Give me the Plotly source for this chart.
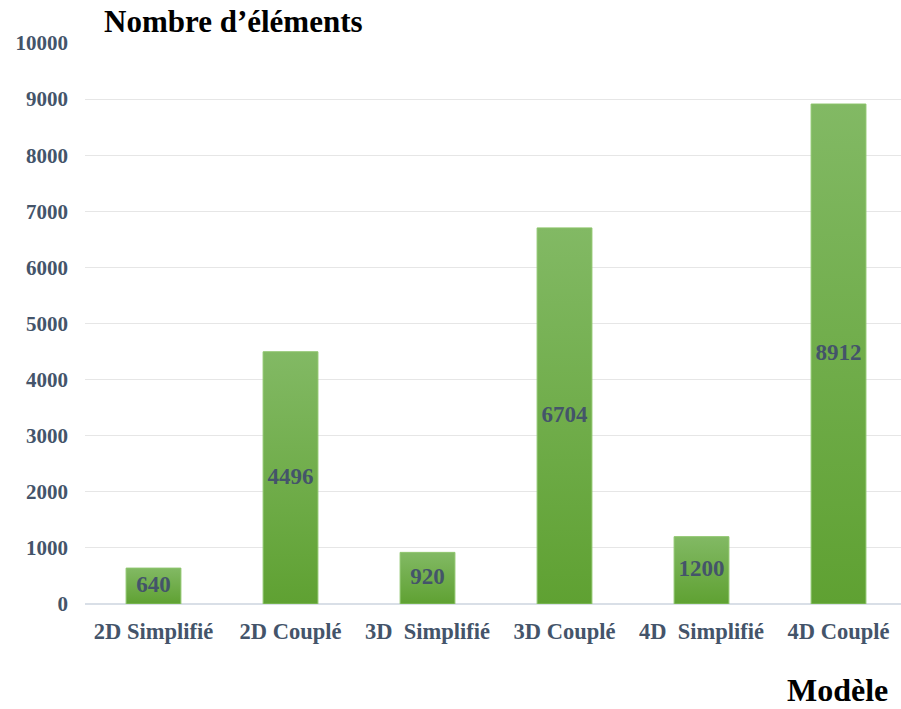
import plotly.graph_objects as go

# Number of mesh elements per model
categories = ["2D Simplifié", "2D Couplé", "3D\u00a0 Simplifié", "3D Couplé", "4D\u00a0 Simplifié", "4D Couplé"]
elements = [640, 4496, 920, 6704, 1200, 8912]
y_ticks = list(range(0, 10001, 1000))

BAR_HALF = 0.2
SERIF = "Liberation Serif, Times New Roman, serif"
LABEL_COLOR = "#44546A"

fig = go.Figure()

# Each bar is a filled rectangle so it can carry a vertical green gradient
for i, v in enumerate(elements):
    fig.add_trace(go.Scatter(
        x=[i - BAR_HALF, i + BAR_HALF, i + BAR_HALF, i - BAR_HALF, i - BAR_HALF],
        y=[0, 0, v, v, 0],
        mode="lines",
        fill="toself",
        line=dict(color="#8cc46a", width=1),
        fillgradient=dict(type="vertical", start=0, stop=v,
                          colorscale=[[0, "#5fa132"], [1, "#82b964"]]),
        hoverinfo="skip",
        showlegend=False,
    ))

# Value labels centred in each bar
fig.add_trace(go.Scatter(
    x=list(range(len(elements))),
    y=[v / 2 for v in elements],
    mode="text",
    text=[str(v) for v in elements],
    textfont=dict(family=SERIF, size=23, color=LABEL_COLOR, weight="bold"),
    hoverinfo="skip",
    showlegend=False,
))

fig.update_layout(
    width=901,
    height=709,
    margin=dict(l=85, r=0, t=43, b=105),
    paper_bgcolor="white",
    plot_bgcolor="white",
    title=dict(
        text="<b>Nombre d’éléments</b>",
        x=104 / 901, xanchor="left",
        y=1 - 21 / 709, yanchor="middle",
        font=dict(family=SERIF, size=31, color="black"),
    ),
    xaxis=dict(
        range=[-0.5, 5.456],
        tickmode="array",
        tickvals=list(range(len(categories))),
        ticktext=["<b>%s</b>" % c for c in categories],
        tickfont=dict(family=SERIF, size=22.5, color=LABEL_COLOR),
        showgrid=False,
        zeroline=False,
        showline=False,
        ticks="",
        ticklabelstandoff=11,
    ),
    yaxis=dict(
        range=[0, 10000],
        tickmode="array",
        tickvals=y_ticks,
        ticktext=["<b>%d</b>" % t for t in y_ticks],
        tickfont=dict(family=SERIF, size=21, color=LABEL_COLOR),
        showgrid=True,
        gridcolor="#e6e6e6",
        gridwidth=1,
        zeroline=True,
        zerolinecolor="#d9dfe7",
        zerolinewidth=1.5,
        showline=False,
        ticks="",
        ticklabelstandoff=16,
    ),
    annotations=[
        dict(
            text="<b>Modèle</b>",
            xref="paper", yref="paper",
            x=(889 - 85) / 816, xanchor="right",
            y=-(690 - 604) / 561, yanchor="middle",
            borderpad=0,
            showarrow=False,
            font=dict(family=SERIF, size=32, color="black"),
        )
    ],
)

fig.write_html("out.html")
